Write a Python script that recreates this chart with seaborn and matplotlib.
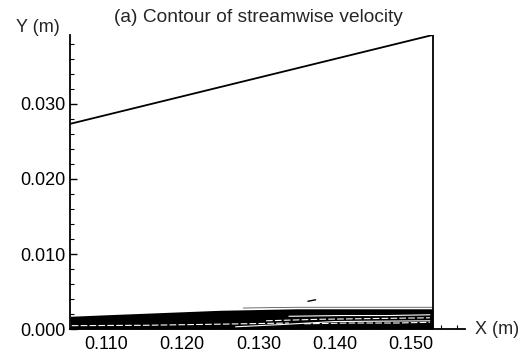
import numpy as np
import pandas as pd
import matplotlib
matplotlib.use("Agg")
import matplotlib.pyplot as plt
import seaborn as sns
from matplotlib.ticker import MultipleLocator

sns.set_theme(style="white")
plt.rcParams['font.family'] = ['Liberation Sans', 'DejaVu Sans']

# Domain outline
top_x = [0.1053, 0.1529]
top_y = [0.02735, 0.0392]
right_x = [0.1529, 0.1529]
right_y = [0.0, 0.0392]

# Boundary-layer contour band (dense contour lines near wall)
band_x = [0.1053, 0.110, 0.115, 0.120, 0.125, 0.130, 0.135, 0.140, 0.145, 0.1529]
band_top = [0.0017, 0.0019, 0.0021, 0.0023, 0.0025, 0.0026, 0.0027, 0.0027, 0.0027, 0.0027]
outer_x = [0.128, 0.135, 0.140, 0.145, 0.1529]
outer_y = [0.0028, 0.0029, 0.0029, 0.0029, 0.0029]

# White gaps between contour lines (near-wall streaks)
streaks = {
    "s1": ([0.1055, 0.115, 0.125, 0.134], [0.00045, 0.0005, 0.00065, 0.0008]),
    "s2": ([0.127, 0.133, 0.140, 0.1525], [0.0003, 0.0006, 0.0010, 0.0011]),
    "s3": ([0.131, 0.138, 0.145, 0.1525], [0.0011, 0.0013, 0.0014, 0.0015]),
    "s4": ([0.134, 0.141, 0.147, 0.1525], [0.0017, 0.0018, 0.0018, 0.0019]),
    "s5": ([0.136, 0.142, 0.148, 0.1525], [0.0007, 0.0008, 0.0008, 0.0009]),
}
mark_x = [0.1365, 0.1375]
mark_y = [0.0037, 0.0039]

fig = plt.figure(figsize=(5.23, 3.60), dpi=100)
ax = fig.add_axes([0.134, 0.086, 0.755, 0.817])

ax.fill_between(band_x, 0, band_top, color="black", lw=0)
kw = dict(ax=ax, sort=False, estimator=None, errorbar=None)
sns.lineplot(x=outer_x, y=outer_y, color="#555555", lw=0.6, **kw)
for i, (k, (sx, sy)) in enumerate(streaks.items()):
    sns.lineplot(x=sx, y=sy, color="white", lw=0.8,
                 linestyle=(0, (6, 2)) if i % 2 == 0 else "-", **kw)
sns.lineplot(x=top_x, y=top_y, color="black", lw=1.3, **kw)
sns.lineplot(x=right_x, y=right_y, color="black", lw=1.3, **kw)
sns.lineplot(x=mark_x, y=mark_y, color="black", lw=1.0, **kw)

ax.set_xlim(0.10528, 0.1571)
ax.set_ylim(0.0, 0.0392)
ax.xaxis.set_minor_locator(MultipleLocator(0.002))
ax.yaxis.set_minor_locator(MultipleLocator(0.002))
ax.set_xticks([0.110, 0.120, 0.130, 0.140, 0.150])
ax.set_xticklabels(["0.110", "0.120", "0.130", "0.140", "0.150"])
ax.set_yticks([0.000, 0.010, 0.020, 0.030])
ax.set_yticklabels(["0.000", "0.010", "0.020", "0.030"])
ax.tick_params(axis="both", which="both", direction="in", color="black",
               labelsize=13, labelcolor="black")
ax.tick_params(which="major", length=5, width=1.0)
ax.tick_params(which="minor", length=3, width=0.8)
ax.tick_params(axis="x", pad=5)
ax.tick_params(axis="y", pad=3)
ax.yaxis.set_tick_params(left=True, which="both")
ax.xaxis.set_tick_params(bottom=True, which="both")

for s in ["top", "right"]:
    ax.spines[s].set_visible(False)
for s in ["left", "bottom"]:
    ax.spines[s].set_color("black")
    ax.spines[s].set_linewidth(1.3)

ax.set_xlabel("")
ax.set_ylabel("")
fig.text(0.073, 0.925, "Y (m)", fontsize=13, ha="center", va="center")
fig.text(0.950, 0.086, "X (m)", fontsize=13, ha="center", va="center")
fig.text(0.495, 0.950, "(a) Contour of streamwise velocity", fontsize=13.8,
         ha="center", va="center")

fig.savefig("out.png", dpi=100)
